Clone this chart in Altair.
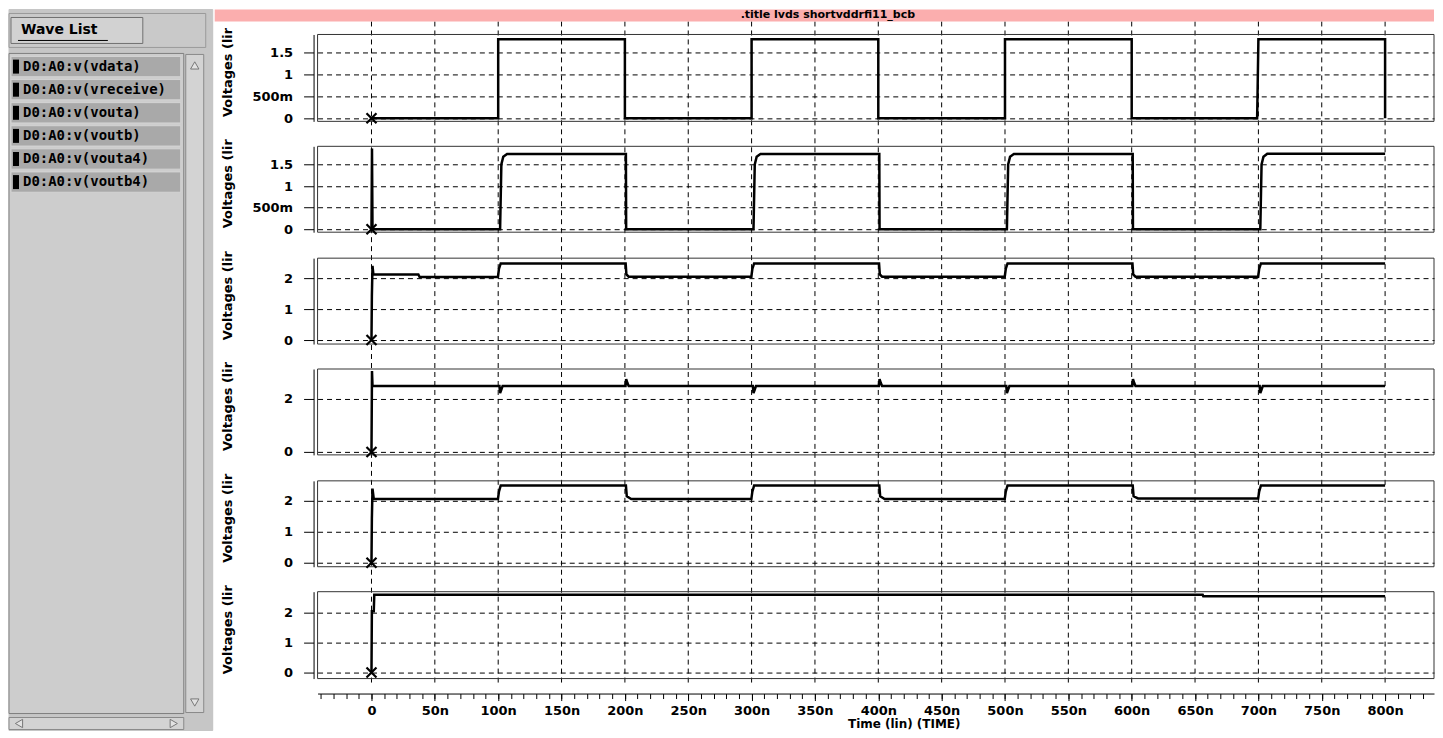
import altair as alt
import pandas as pd

TITLE = ".title lvds shortvddrfi11_bcb"
SIGNALS = ["D0:A0:v(vdata)", "D0:A0:v(vreceive)", "D0:A0:v(vouta)",
           "D0:A0:v(voutb)", "D0:A0:v(vouta4)", "D0:A0:v(voutb4)"]

# waveform breakpoints: time in ns, voltage in V
VDATA_T = [0, 100, 100, 200, 200, 300, 300, 400, 400, 500, 500, 600, 600, 699, 699.3, 700, 800, 800]
VDATA_V = [0, 0, 1.8, 1.8, 0, 0, 1.8, 1.8, 0, 0, 1.8, 1.8, 0, 0, 0.5, 1.8, 1.8, 0]

VRECEIVE_T = [0, 0.4, 0.8, 101.5, 102.5, 104, 107, 200.8, 201, 301.5, 302.5, 304, 307, 400.8, 401,
              501.5, 502.5, 504, 507, 600.8, 601, 701.5, 702.5, 704, 707, 800]
VRECEIVE_V = [0, 1.87, 0, 0, 1.5, 1.68, 1.74, 1.74, 0, 0, 1.5, 1.68, 1.74, 1.74, 0,
              0, 1.5, 1.68, 1.74, 1.74, 0, 0, 1.5, 1.68, 1.75, 1.75]

VOUTA_T = [0, 0.3, 0.8, 1.5, 37, 38, 99.8, 100.6, 102, 200.6, 201.2, 203, 299.8, 300.6, 302,
           400.6, 401.2, 403, 499.8, 500.6, 502, 600.6, 601.2, 603, 699.8, 700.6, 702, 800]
VOUTA_V = [0, 1.42, 2.4, 2.12, 2.12, 2.04, 2.04, 2.3, 2.48, 2.48, 2.12, 2.05, 2.05, 2.3, 2.48,
           2.48, 2.12, 2.05, 2.05, 2.3, 2.48, 2.48, 2.12, 2.05, 2.05, 2.3, 2.48, 2.48]

VOUTB_T = [0, 0.4, 0.8, 101, 101.5, 102.5, 103.5, 200.5, 201, 202, 203, 301, 301.5, 302.5, 303.5,
           400.5, 401, 402, 403, 501, 501.5, 502.5, 503.5, 600.5, 601, 602, 603,
           701, 701.5, 702.5, 703.5, 800]
VOUTB_V = [0, 3.05, 2.49, 2.49, 2.22, 2.35, 2.49, 2.49, 2.75, 2.6, 2.49, 2.49, 2.22, 2.35, 2.49,
           2.49, 2.75, 2.6, 2.49, 2.49, 2.22, 2.35, 2.49, 2.49, 2.75, 2.6, 2.49,
           2.49, 2.22, 2.35, 2.49, 2.49]

VOUTA4_T = [0, 0.3, 0.8, 1.8, 99.8, 100.6, 102, 200.8, 201.5, 205, 299.8, 300.6, 302, 400.8, 401.5,
            405, 499.8, 500.6, 502, 600.8, 601.5, 605, 699.8, 700.6, 702, 800]
VOUTA4_V = [0, 1.42, 2.4, 2.06, 2.06, 2.3, 2.5, 2.5, 2.15, 2.06, 2.06, 2.3, 2.5, 2.5, 2.15,
            2.06, 2.06, 2.3, 2.5, 2.5, 2.15, 2.08, 2.08, 2.3, 2.5, 2.5]

VOUTB4_T = [0, 0.3, 1.8, 2.2, 656, 656.5, 800]
VOUTB4_V = [0, 2.05, 2.05, 2.6, 2.6, 2.55, 2.55]

WAVES_T = [VDATA_T, VRECEIVE_T, VOUTA_T, VOUTB_T, VOUTA4_T, VOUTB4_T]
WAVES_V = [VDATA_V, VRECEIVE_V, VOUTA_V, VOUTB_V, VOUTA4_V, VOUTB4_V]

Y_DOMAINS = [[-0.07, 1.91], [-0.07, 1.92], [-0.13, 2.65], [-0.11, 3.13], [-0.13, 2.65], [-0.2, 2.7]]
Y_TICKS = [[0, 0.5, 1, 1.5], [0, 0.5, 1, 1.5], [0, 1, 2], [0, 2], [0, 1, 2], [0, 1, 2]]

GRID_T = list(range(0, 850, 50))
MINOR_T = list(range(-40, 840, 10))
X_DOMAIN = [-42.56, 838.6]

# layout (pixels inside the waveform view)
W, H = 1118, 665
PANEL_RANGES = [[100, 13], [211, 125], [323, 237], [434, 348], [546, 460], [658, 571]]
FONT = "DejaVu Sans"
ONE = pd.DataFrame({"k": [0]})
XS = alt.Scale(domain=X_DOMAIN, nice=False, zero=False)
CROSS = "M-1,-1L1,1M1,-1L-1,1"

X_MINOR = alt.Axis(orient="bottom", offset=8, values=MINOR_T, tickSize=5, labels=False,
                   domainColor="black", tickColor="black", grid=False, title=None)
X_MAJOR = alt.Axis(orient="bottom", offset=8, values=GRID_T, tickSize=7, domain=False,
                   tickColor="black", grid=False,
                   labelExpr="datum.value == 0 ? '0' : format(datum.value, 'd') + 'n'",
                   labelFont=FONT, labelFontWeight="bold", labelFontSize=13, labelColor="black",
                   labelPadding=4, title="Time (lin) (TIME)", titleFont=FONT,
                   titleFontWeight="bold", titleFontSize=12, titleColor="black",
                   titlePadding=1, titleX=587)


def y_axis(i):
    r0, r1 = PANEL_RANGES[i]
    return alt.Axis(orient="left", values=Y_TICKS[i], offset=4, tickSize=10, labelPadding=11,
                    labelExpr="datum.value == 0.5 ? '500m' : format(datum.value, '~g')",
                    labelFont=FONT, labelFontWeight="bold", labelFontSize=13, labelColor="black",
                    domainColor="black", tickColor="black",
                    grid=True, gridColor="black", gridDash=[5, 4], gridWidth=1, gridOpacity=1,
                    title="Voltages (lir", titleFont=FONT, titleFontWeight="bold",
                    titleFontSize=13, titleColor="black", titlePadding=0,
                    titleY=(r0 + r1) / 2 - 6, minExtent=79, maxExtent=79)


def panel(i):
    df = pd.DataFrame({"t": WAVES_T[i], "v": WAVES_V[i], "i": range(len(WAVES_T[i]))})
    lo, hi = Y_DOMAINS[i]
    ys = alt.Scale(domain=[lo, hi], range=PANEL_RANGES[i], nice=False, zero=False)
    frame = alt.Chart(ONE).mark_rect(fillOpacity=0, stroke="#333333", strokeWidth=1).encode(
        x=alt.value(0), x2=alt.value(W),
        y=alt.Y(datum=hi, type="quantitative", scale=ys, axis=None),
        y2=alt.Y2(datum=lo),
    )
    line = alt.Chart(df).mark_line(color="black", strokeWidth=2.5).encode(
        x=alt.X("t:Q", scale=XS, axis=X_MAJOR if i == 5 else None),
        y=alt.Y("v:Q", scale=ys, axis=y_axis(i)),
        order="i:Q",
    )
    marker = alt.Chart(df.iloc[:1]).mark_point(
        shape=CROSS, size=100, filled=False, stroke="black", strokeWidth=2.2, opacity=1
    ).encode(
        x=alt.X("t:Q", scale=XS, axis=None),
        y=alt.Y("v:Q", scale=ys, axis=None),
    )
    return [frame, line, marker]


grid = alt.Chart(pd.DataFrame({"t": GRID_T})).mark_rule(
    color="black", strokeDash=[5, 4], strokeWidth=1
).encode(x=alt.X("t:Q", scale=XS, axis=X_MINOR))

title_bar = alt.Chart(ONE).mark_rect(color="#fbaeae").encode(
    x=alt.value(-103), x2=alt.value(W), y=alt.value(-12), y2=alt.value(0)
)
title_text = alt.Chart(pd.DataFrame({"title": [TITLE]})).mark_text(
    font=FONT, fontWeight="bold", fontSize=11, color="black", baseline="middle"
).encode(x=alt.value(511), y=alt.value(-6), text="title:N")

panel_layers = [layer for i in range(6) for layer in panel(i)]
right = (
    alt.layer(grid, title_bar, title_text, *panel_layers)
    .resolve_scale(y="independent")
    .resolve_axis(x="independent", y="independent")
    .properties(width=W, height=H, view=alt.ViewBackground(fill="white", strokeWidth=0))
)


# wave list panel (its origin lines up with the waveform view, 12px below the chart top)
def box(x, y, x2, y2, fill, stroke):
    return alt.Chart(ONE).mark_rect(fill=fill, stroke=stroke, strokeWidth=1).encode(
        x=alt.value(x), x2=alt.value(x2), y=alt.value(y), y2=alt.value(y2)
    )


def arrow(shape, x, y):
    return alt.Chart(ONE).mark_point(
        shape=shape, filled=True, size=70, fill="#e2e2e2", stroke="#777777", strokeWidth=1, opacity=1
    ).encode(x=alt.value(x), y=alt.value(y))


items = pd.DataFrame({"signal": SIGNALS})
ys_list = alt.Y("signal:N", sort=SIGNALS, axis=None,
                scale=alt.Scale(domain=SIGNALS, range=[35, 171], paddingInner=0.12, paddingOuter=0))

rows = alt.Chart(items).mark_rect(color="#a9a9a9", stroke="#d4d4d4", strokeWidth=1).encode(
    x=alt.value(2), x2=alt.value(172), y=ys_list
)
swatches = alt.Chart(items).mark_bar(color="black", size=14).encode(
    x=alt.value(4), x2=alt.value(10), y=ys_list
)
labels = alt.Chart(items).mark_text(
    align="left", baseline="middle", font="DejaVu Sans Mono", fontWeight="bold",
    fontSize=14, color="black"
).encode(x=alt.value(14), y=ys_list, text="signal:N")

btn_text = alt.Chart(pd.DataFrame({"label": ["Wave List"]})).mark_text(
    align="left", baseline="middle", font=FONT, fontWeight="bold", fontSize=14, color="black"
).encode(x=alt.value(12), y=alt.value(9), text="label:N")
underline = alt.Chart(ONE).mark_rule(color="black", strokeWidth=1).encode(
    x=alt.value(9), x2=alt.value(99), y=alt.value(19)
)

left = alt.layer(
    box(0, -12, 204, 710, "#c6c6c6", "#c6c6c6"),
    box(0, -8, 197, 26, "#c9c9c9", "#9a9a9a"),
    box(2, -4, 134, 22, "#d2d2d2", "#6f6f6f"),
    btn_text, underline,
    box(0, 32, 175, 693, "#cdcdcd", "#7f7f7f"),
    rows, swatches, labels,
    box(177, 33, 195, 692, "#d3d3d3", "#8a8a8a"),
    arrow("triangle-up", 186, 44), arrow("triangle-down", 186, 682),
    box(0, 697, 175, 709, "#d3d3d3", "#8a8a8a"),
    arrow("triangle-left", 10, 703), arrow("triangle-right", 165, 703),
).properties(width=204, height=710, view=alt.ViewBackground(fill="#c6c6c6", strokeWidth=0))

chart = (
    alt.hconcat(left, right, spacing=1)
    .properties(padding=0, background="white")
    .configure_view(strokeWidth=0)
)

chart.save("out.html", embed_options={"renderer": "svg", "actions": False})
